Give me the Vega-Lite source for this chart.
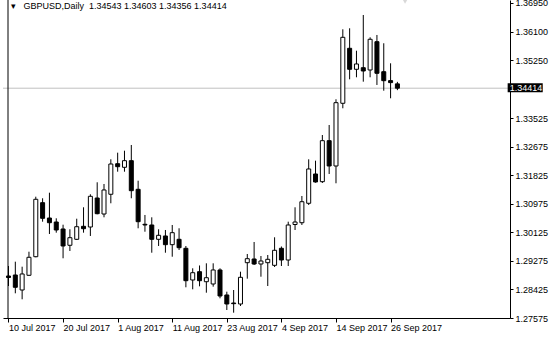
{
  "$schema": "https://vega.github.io/schema/vega-lite/v6.json",
  "width": 507,
  "height": 318,
  "autosize": {"type": "none"},
  "padding": {"left": 3, "top": 0, "right": 40, "bottom": 24},
  "background": "#ffffff",
  "config": {
    "view": {"stroke": null},
    "font": "Liberation Sans",
    "axis": {"labelFont": "Liberation Sans", "labelFontSize": 9, "labelColor": "#000000", "domainColor": "#000000", "tickColor": "#000000", "grid": false, "title": null, "labelOverlap": false}
  },
  "data": {"values": [
    {"i":0,"date":"2017-07-10","o":1.28825,"h":1.29123,"l":1.28527,"c":1.28780},
    {"i":1,"date":"2017-07-11","o":1.28855,"h":1.29251,"l":1.28310,"c":1.28489},
    {"i":2,"date":"2017-07-12","o":1.28408,"h":1.29102,"l":1.28132,"c":1.28885},
    {"i":3,"date":"2017-07-13","o":1.28846,"h":1.29548,"l":1.28834,"c":1.29382},
    {"i":4,"date":"2017-07-14","o":1.29399,"h":1.31185,"l":1.29382,"c":1.31108},
    {"i":5,"date":"2017-07-17","o":1.31007,"h":1.31138,"l":1.30441,"c":1.30542},
    {"i":6,"date":"2017-07-18","o":1.30551,"h":1.31304,"l":1.30075,"c":1.30411},
    {"i":7,"date":"2017-07-19","o":1.30432,"h":1.30542,"l":1.30114,"c":1.30194},
    {"i":8,"date":"2017-07-20","o":1.30224,"h":1.30352,"l":1.29352,"c":1.29718},
    {"i":9,"date":"2017-07-21","o":1.29739,"h":1.30215,"l":1.29569,"c":1.29965},
    {"i":10,"date":"2017-07-24","o":1.29917,"h":1.30530,"l":1.29896,"c":1.30292},
    {"i":11,"date":"2017-07-25","o":1.30304,"h":1.30870,"l":1.30114,"c":1.30233},
    {"i":12,"date":"2017-07-26","o":1.30283,"h":1.31257,"l":1.30016,"c":1.31197},
    {"i":13,"date":"2017-07-27","o":1.31146,"h":1.31614,"l":1.30661,"c":1.30679},
    {"i":14,"date":"2017-07-28","o":1.30670,"h":1.31563,"l":1.30572,"c":1.31385},
    {"i":15,"date":"2017-07-31","o":1.31257,"h":1.32298,"l":1.30989,"c":1.32158},
    {"i":16,"date":"2017-08-01","o":1.32167,"h":1.32495,"l":1.31929,"c":1.32078},
    {"i":17,"date":"2017-08-02","o":1.32060,"h":1.32554,"l":1.31929,"c":1.32257},
    {"i":18,"date":"2017-08-03","o":1.32257,"h":1.32724,"l":1.31138,"c":1.31364},
    {"i":19,"date":"2017-08-04","o":1.31405,"h":1.31661,"l":1.30245,"c":1.30441},
    {"i":20,"date":"2017-08-07","o":1.30364,"h":1.30641,"l":1.30143,"c":1.30343},
    {"i":21,"date":"2017-08-08","o":1.30343,"h":1.30572,"l":1.29518,"c":1.29917},
    {"i":22,"date":"2017-08-09","o":1.29917,"h":1.30215,"l":1.29718,"c":1.30036},
    {"i":23,"date":"2017-08-10","o":1.30016,"h":1.30194,"l":1.29518,"c":1.29757},
    {"i":24,"date":"2017-08-11","o":1.29757,"h":1.30343,"l":1.29399,"c":1.30114},
    {"i":25,"date":"2017-08-14","o":1.29917,"h":1.30245,"l":1.29599,"c":1.29667},
    {"i":26,"date":"2017-08-15","o":1.29649,"h":1.29718,"l":1.28489,"c":1.28685},
    {"i":27,"date":"2017-08-16","o":1.28706,"h":1.29054,"l":1.28429,"c":1.28923},
    {"i":28,"date":"2017-08-17","o":1.28953,"h":1.29138,"l":1.28518,"c":1.28685},
    {"i":29,"date":"2017-08-18","o":1.28655,"h":1.29203,"l":1.28328,"c":1.28774},
    {"i":30,"date":"2017-08-21","o":1.28587,"h":1.29203,"l":1.28507,"c":1.29004},
    {"i":31,"date":"2017-08-22","o":1.29004,"h":1.29054,"l":1.28161,"c":1.28230},
    {"i":32,"date":"2017-08-23","o":1.28260,"h":1.28358,"l":1.27813,"c":1.27992},
    {"i":33,"date":"2017-08-24","o":1.28021,"h":1.28408,"l":1.27733,"c":1.28001},
    {"i":34,"date":"2017-08-25","o":1.27992,"h":1.28953,"l":1.27932,"c":1.28786},
    {"i":35,"date":"2017-08-28","o":1.29221,"h":1.29480,"l":1.28745,"c":1.29340},
    {"i":36,"date":"2017-08-29","o":1.29331,"h":1.29837,"l":1.29152,"c":1.29182},
    {"i":37,"date":"2017-08-30","o":1.29182,"h":1.29420,"l":1.28804,"c":1.29271},
    {"i":38,"date":"2017-08-31","o":1.29221,"h":1.29450,"l":1.28527,"c":1.29322},
    {"i":39,"date":"2017-09-01","o":1.29143,"h":1.29977,"l":1.29093,"c":1.29590},
    {"i":40,"date":"2017-09-04","o":1.29649,"h":1.29703,"l":1.29123,"c":1.29301},
    {"i":41,"date":"2017-09-05","o":1.29301,"h":1.30441,"l":1.29123,"c":1.30343},
    {"i":42,"date":"2017-09-06","o":1.30358,"h":1.30870,"l":1.30194,"c":1.30432},
    {"i":43,"date":"2017-09-07","o":1.30411,"h":1.31206,"l":1.30343,"c":1.31036},
    {"i":44,"date":"2017-09-08","o":1.30989,"h":1.32298,"l":1.30938,"c":1.32010},
    {"i":45,"date":"2017-09-11","o":1.31861,"h":1.32257,"l":1.31602,"c":1.31623},
    {"i":46,"date":"2017-09-12","o":1.31632,"h":1.33021,"l":1.31593,"c":1.32852},
    {"i":47,"date":"2017-09-13","o":1.32852,"h":1.33319,"l":1.31861,"c":1.32099},
    {"i":48,"date":"2017-09-14","o":1.32099,"h":1.34084,"l":1.31584,"c":1.33983},
    {"i":49,"date":"2017-09-15","o":1.33965,"h":1.36167,"l":1.33816,"c":1.35929},
    {"i":50,"date":"2017-09-18","o":1.35602,"h":1.36197,"l":1.34679,"c":1.34977},
    {"i":51,"date":"2017-09-19","o":1.34977,"h":1.35530,"l":1.34739,"c":1.35135},
    {"i":52,"date":"2017-09-20","o":1.35024,"h":1.36593,"l":1.34608,"c":1.34926},
    {"i":53,"date":"2017-09-21","o":1.34956,"h":1.35929,"l":1.34739,"c":1.35870},
    {"i":54,"date":"2017-09-22","o":1.35798,"h":1.35998,"l":1.34510,"c":1.34858},
    {"i":55,"date":"2017-09-25","o":1.34905,"h":1.35751,"l":1.34340,"c":1.34638},
    {"i":56,"date":"2017-09-26","o":1.34640,"h":1.35155,"l":1.34114,"c":1.34580},
    {"i":57,"date":"2017-09-27","o":1.34543,"h":1.34603,"l":1.34356,"c":1.34414}
  ]},
  "layer": [
    {
      "data": {"values": [{"p": 1.34414}]},
      "mark": {"type": "rule", "color": "#c0c0c0", "strokeWidth": 1},
      "encoding": {
        "y": {"field": "p", "type": "quantitative",
              "scale": {"domain": [1.27575, 1.37039], "nice": false, "zero": false},
              "axis": {"orient": "right", "values": [1.27575, 1.28425, 1.29275, 1.30125, 1.30975, 1.31825, 1.32675, 1.33525, 1.35250, 1.36100, 1.36950],
                       "tickCount": 30, "format": ".5f", "tickSize": 3, "labelPadding": 2, "labelOverlap": false, "labelFlush": false, "labelBound": false}}
      }
    },
    {
      "data": {"values": [{"k": -0.072}]},
      "mark": {"type": "rule", "color": "#000000", "strokeWidth": 1, "clip": false},
      "encoding": {
        "x": {"field": "k", "type": "quantitative",
              "scale": {"domain": [-0.072, 72.77], "nice": false, "zero": false},
              "axis": {"orient": "bottom", "values": [0, 8, 16, 24, 32, 40, 48, 56], "tickCount": 30,
                       "labelExpr": "['10 Jul 2017','20 Jul 2017','1 Aug 2017','11 Aug 2017','23 Aug 2017','4 Sep 2017','14 Sep 2017','26 Sep 2017'][round(datum.value/8)]",
                       "labelAlign": "left", "labelBaseline": "top", "labelPadding": 1, "tickSize": 4,
                       "labelOverlap": false, "labelFlush": false, "labelBound": false}}
      }
    },
    {
      "mark": {"type": "rule", "color": "#000000", "strokeWidth": 1, "clip": true},
      "encoding": {
        "x": {"field": "i", "type": "quantitative"},
        "y": {"field": "l", "type": "quantitative"},
        "y2": {"field": "h"}
      }
    },
    {
      "mark": {"type": "bar", "size": 4, "stroke": "#000000", "strokeWidth": 1, "clip": true},
      "encoding": {
        "x": {"field": "i", "type": "quantitative"},
        "y": {"field": "o", "type": "quantitative"},
        "y2": {"field": "c"},
        "fill": {"condition": {"test": "datum.c > datum.o", "value": "#ffffff"}, "value": "#000000"}
      }
    },
    {
      "data": {"values": [{"p": 1.34414}]},
      "mark": {"type": "rect", "color": "#000000", "clip": false},
      "encoding": {
        "x": {"datum": 73.16, "type": "quantitative"},
        "x2": {"datum": 78.3},
        "y": {"datum": 1.34560, "type": "quantitative"},
        "y2": {"datum": 1.34290}
      }
    },
    {
      "data": {"values": [{"p": 1.34414, "label": "1.34414"}]},
      "mark": {"type": "text", "color": "#ffffff", "align": "left", "baseline": "middle", "font": "Liberation Sans", "fontSize": 9, "clip": false},
      "encoding": {
        "x": {"datum": 73.45, "type": "quantitative"},
        "y": {"field": "p", "type": "quantitative"},
        "text": {"field": "label"}
      }
    },
    {
      "data": {"values": [{"p": 1.3700, "k": 58.12}]},
      "mark": {"type": "point", "shape": "triangle-down", "filled": true, "color": "#c8c8c8", "size": 30, "clip": false},
      "encoding": {
        "x": {"field": "k", "type": "quantitative"},
        "y": {"field": "p", "type": "quantitative"}
      }
    },
    {
      "data": {"values": [{"k": -0.072, "p": 1.37039, "label": "▾\u00a0\u00a0\u00a0GBPUSD,Daily\u00a0\u00a01.34543 1.34603 1.34356 1.34414"}]},
      "mark": {"type": "text", "color": "#000000", "align": "left", "baseline": "alphabetic", "dx": 3, "dy": 9, "font": "Liberation Sans", "fontSize": 9, "clip": false},
      "encoding": {
        "x": {"field": "k", "type": "quantitative"},
        "y": {"field": "p", "type": "quantitative"},
        "text": {"field": "label"}
      }
    }
  ]
}
